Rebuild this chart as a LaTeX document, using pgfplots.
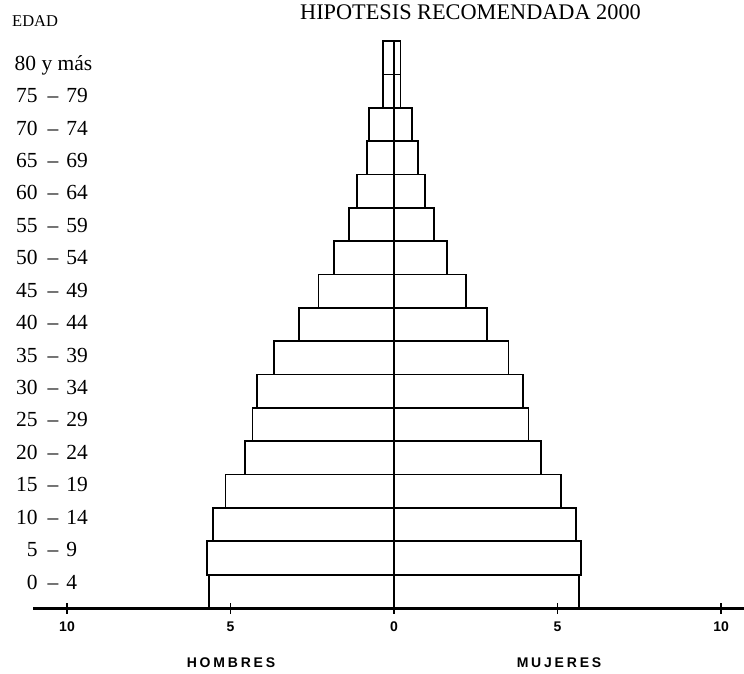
\documentclass[border=0pt]{standalone}
\usepackage{pgfplots}
\usepackage{pgfplotstable}
\pgfplotsset{compat=1.18}
\usepackage{fontspec}
\setmainfont{Liberation Serif}
\newfontfamily\sansb{Liberation Sans}
\newfontfamily\sanslsp[LetterSpace=20]{Liberation Sans}
\newcommand\gr[2]{\makebox[33pt][r]{#1\hspace{10pt}}--\hspace{8pt}#2}

\pgfplotstableread{
y    h      m
0.5  -5.66  5.66
1.5  -5.71  5.72
2.5  -5.53  5.57
3.5  -5.15  5.11
4.5  -4.56  4.49
5.5  -4.33  4.11
6.5  -4.20  3.95
7.5  -3.67  3.50
8.5  -2.90  2.85
9.5  -2.31  2.20
10.5 -1.83  1.61
11.5 -1.37  1.22
12.5 -1.14  0.95
13.5 -0.83  0.74
14.5 -0.76  0.55
15.5 -0.34  0.20
16.5 -0.34  0.20
}\pyr

\begin{document}
\begin{tikzpicture}
\path[use as bounding box] (0pt,0pt) rectangle (744pt,673pt);
\begin{axis}[
  at={(33pt,65pt)}, anchor=south west, scale only axis,
  width=711pt, height=567pt,
  xmin=-11.04, xmax=10.7, ymin=0, ymax=17,
  axis x line=bottom, axis y line=left,
  x axis line style={-, line width=3pt},
  y axis line style={draw=none},
  axis on top,
  xtick={-10,-5,0,5,10}, xticklabels={10,5,0,5,10},
  ytick={0.780,1.752,2.725,3.698,4.670,5.643,6.615,7.588,8.561,9.533,10.506,11.479,12.451,13.424,14.396,15.369,16.342},
  yticklabels={\gr{0}{4},\gr{5}{9},\gr{10}{14},\gr{15}{19},\gr{20}{24},\gr{25}{29},\gr{30}{34},\gr{35}{39},\gr{40}{44},\gr{45}{49},\gr{50}{54},\gr{55}{59},\gr{60}{64},\gr{65}{69},\gr{70}{74},\gr{75}{79},80 y más},
  tick align=center, major tick length=11pt,
  xtick style={line width=1.5pt, black},
  ytick style={draw=none},
  xticklabel style={font=\sansb\bfseries\fontsize{14}{16}\selectfont, anchor=base, yshift=-18pt},
  yticklabel style={font=\fontsize{21.5}{25}\selectfont, anchor=base west, inner sep=0pt, xshift=-13pt, yshift=-7.2pt},
  clip=false,
]
\addplot[xbar, bar width=1, bar shift=0pt, fill=white, draw=black, line width=1.7pt] table[x=h, y=y] {\pyr};
\addplot[xbar, bar width=1, bar shift=0pt, fill=white, draw=black, line width=1.7pt] table[x=m, y=y] {\pyr};
\addplot[sharp plot, no marks, black, line width=2.6pt] coordinates {(0,0) (0,17)};
\end{axis}
\node[font=\fontsize{22.3}{26}\selectfont, anchor=base] at (470.5pt,653pt) {HIPOTESIS RECOMENDADA 2000};
\node[font=\fontsize{16.5}{20}\selectfont, anchor=base west, inner sep=0pt] at (12pt,646pt) {EDAD};
\node[font=\sanslsp\bfseries\fontsize{14}{16}\selectfont, anchor=base] at (231pt,6pt) {HOMBRES};
\node[font=\sanslsp\bfseries\fontsize{14}{16}\selectfont, anchor=base] at (559pt,6pt) {MUJERES};
\end{tikzpicture}
\end{document}
